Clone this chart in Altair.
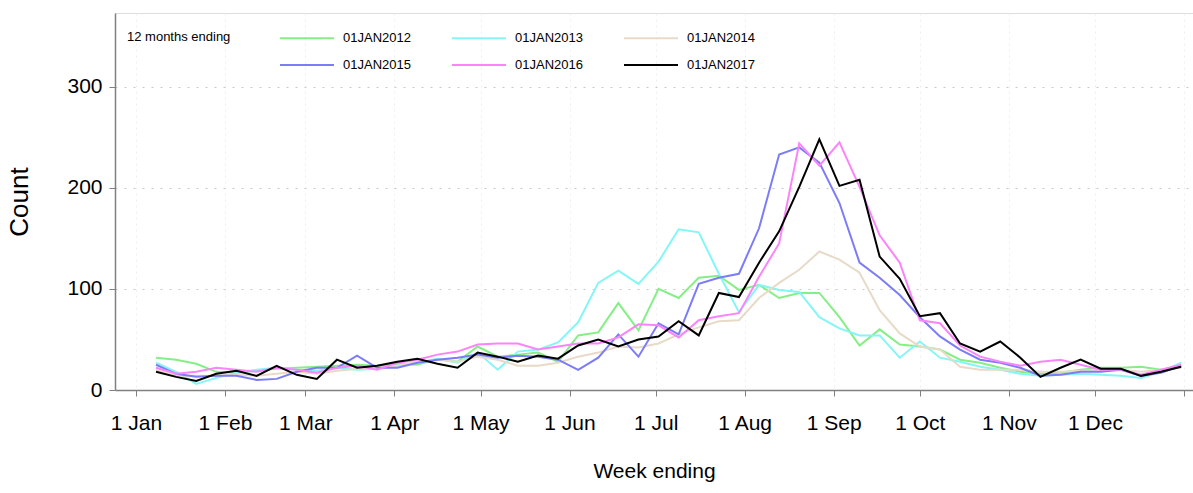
import altair as alt
import pandas as pd

# Week-ending dates on a common Jan-Dec axis
week_ending = pd.date_range("2017-01-08", periods=52, freq="7D").strftime("%Y-%m-%d").tolist()

series_names = ["01JAN2012", "01JAN2013", "01JAN2014", "01JAN2015", "01JAN2016", "01JAN2017"]
series_colors = ["#86ee86", "#84f6f6", "#e8dac8", "#7c7cf6", "#fb84fb", "#000000"]
series_widths = [2, 2, 2, 2, 2, 4.5]

counts_2012 = [32, 30, 26, 18, 17, 19, 21, 22, 23, 24,
               25, 24, 26, 25, 31, 28, 43, 33, 35, 37,
               28, 54, 57, 86, 59, 100, 91, 111, 113, 99,
               104, 91, 96, 96, 72, 44, 60, 45, 43, 40,
               30, 27, 22, 18, 16, 17, 20, 22, 22, 23,
               20, 24]
counts_2013 = [27, 18, 6, 12, 17, 20, 22, 20, 19, 22,
               20, 21, 24, 27, 31, 27, 37, 20, 38, 40,
               47, 67, 106, 118, 105, 127, 159, 156, 115, 77,
               104, 99, 97, 72, 61, 54, 54, 32, 48, 32,
               28, 23, 20, 16, 14, 15, 16, 15, 14, 12,
               18, 27]
counts_2014 = [20, 14, 14, 14, 15, 14, 16, 18, 16, 19,
               21, 22, 24, 28, 30, 28, 33, 30, 24, 24,
               27, 33, 37, 43, 42, 46, 55, 62, 68, 69,
               91, 106, 119, 137, 129, 116, 79, 56, 43, 40,
               23, 20, 20, 20, 18, 18, 19, 20, 20, 18,
               20, 22]
counts_2015 = [25, 16, 13, 14, 14, 10, 11, 18, 22, 22,
               34, 22, 22, 27, 30, 32, 35, 32, 34, 33,
               30, 20, 32, 55, 33, 66, 55, 105, 111, 115,
               160, 233, 240, 225, 185, 126, 111, 94, 72, 53,
               40, 30, 27, 22, 14, 15, 18, 18, 20, 14,
               17, 24]
counts_2016 = [22, 16, 18, 22, 20, 18, 22, 20, 17, 22,
               24, 20, 27, 30, 35, 38, 45, 46, 46, 40,
               43, 46, 46, 52, 65, 64, 52, 69, 73, 76,
               112, 145, 244, 222, 245, 201, 153, 126, 69, 66,
               44, 33, 28, 24, 28, 30, 25, 20, 20, 15,
               20, 25]
counts_2017 = [18, 13, 9, 16, 19, 14, 24, 15, 11, 30,
               22, 24, 28, 31, 26, 22, 37, 33, 28, 34,
               31, 44, 50, 43, 50, 53, 68, 54, 96, 92,
               126, 157, 201, 248, 202, 208, 132, 110, 73, 76,
               46, 38, 48, 32, 13, 22, 30, 21, 21, 14,
               18, 23]

y_ticks = [0, 100, 200, 300]
month_ticks = [alt.DateTime(year=2017, month=m, date=1, utc=True) for m in range(1, 13)] + [
    alt.DateTime(year=2018, month=1, date=1, utc=True)
]

all_counts = [counts_2012, counts_2013, counts_2014, counts_2015, counts_2016, counts_2017]
rows = []
for order, (name, values) in enumerate(zip(series_names, all_counts)):
    for d, v in zip(week_ending, values):
        rows.append({"week": d, "count": v, "series": name, "order": order})
df = pd.DataFrame(rows)

FONT = "Liberation Sans, Arial, sans-serif"

# Legend swatch: a long horizontal stroke starting at the entry's left edge
SWATCH_PATH = "M-1,0H3"

chart = (
    alt.Chart(df)
    .mark_line(strokeJoin="miter")
    .encode(
        x=alt.X(
            "week:T",
            scale=alt.Scale(
                type="utc",
                domain=[
                    alt.DateTime(year=2016, month=12, date=24, hours=17, utc=True),
                    alt.DateTime(year=2018, month=1, date=4, hours=3, utc=True),
                ],
            ),
            axis=alt.Axis(
                title="Week ending",
                values=month_ticks,
                labelExpr="utcyear(datum.value) > 2017 ? '' : utcFormat(datum.value, '%-d %b')",
                labelFont=FONT,
                labelFontSize=21,
                labelPadding=16,
                labelColor="#000000",
                tickSize=6,
                tickColor="#808080",
                domainColor="#808080",
                domainWidth=1.5,
                grid=True,
                gridColor="#eeeeee",
                gridDash=[2, 4],
                titleFont=FONT,
                titleFontSize=21,
                titleFontWeight="normal",
                titleColor="#000000",
                titlePadding=27,
            ),
        ),
        y=alt.Y(
            "count:Q",
            scale=alt.Scale(domain=[0, 373], nice=False),
            axis=alt.Axis(
                title="Count",
                values=y_ticks,
                labelFont=FONT,
                labelFontSize=21,
                labelPadding=7,
                labelColor="#000000",
                tickSize=6,
                tickColor="#808080",
                domainColor="#808080",
                domainWidth=1.5,
                grid=True,
                gridColor="#c8c8c8",
                gridDash=[2, 7],
                titleFont=FONT,
                titleFontSize=26,
                titleFontWeight="normal",
                titleColor="#000000",
                titlePadding=34,
            ),
        ),
        color=alt.Color(
            "series:N",
            scale=alt.Scale(domain=series_names, range=series_colors),
            legend=alt.Legend(
                title="12 months ending",
                orient="none",
                legendX=12,
                legendY=10.5,
                columns=3,
                direction="horizontal",
                titleOrient="left",
                titleAnchor="start",
                titleBaseline="line-top",
                titleLineHeight=27,
                titleFont=FONT,
                titleFontSize=13,
                titleFontWeight="normal",
                titleColor="#000000",
                titlePadding=48,
                symbolType=SWATCH_PATH,
                symbolSize=729,
                labelFont=FONT,
                labelFontSize=13,
                labelColor="#000000",
                labelOffset=35,
                columnPadding=37,
                rowPadding=5,
            ),
        ),
        strokeWidth=alt.StrokeWidth(
            "series:N",
            scale=alt.Scale(domain=series_names, range=series_widths),
        ),
        order=alt.Order("order:Q"),
        detail="series:N",
    )
    .properties(
        width=1078,
        height=377,
        padding={"left": 115, "top": 13, "right": 0, "bottom": 103},
        autosize=alt.AutoSizeParams(type="none"),
    )
    .configure_view(stroke="#808080", strokeWidth=1.5)
    .configure(background="#ffffff")
)

chart.save("out.html", embed_options={"renderer": "svg", "actions": False})
